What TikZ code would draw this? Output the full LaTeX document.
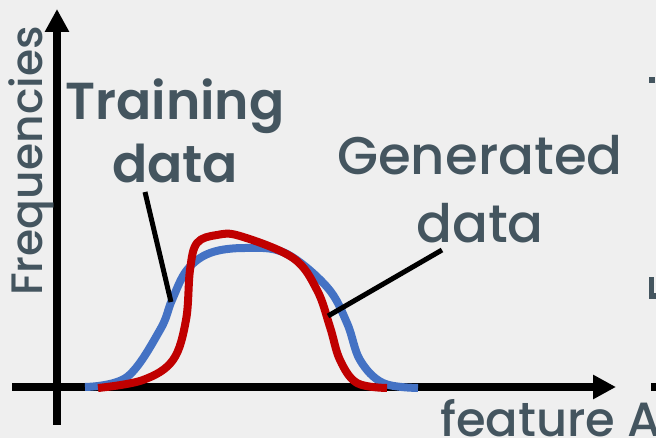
\documentclass[tikz,border=0pt]{standalone}
\usepackage{fontspec}
\setmainfont{Poppins}[UprightFont=* Medium,BoldFont=* SemiBold]
\usetikzlibrary{arrows.meta}

\definecolor{bgcol}{HTML}{EFEFEF}
\definecolor{txtcol}{HTML}{44555F}
\definecolor{traincol}{HTML}{4472C4}
\definecolor{gencol}{HTML}{C00000}

\begin{document}
\begin{tikzpicture}[x=1pt,y=-1pt,
        axis/.style={line width=8pt,-{Triangle[length=23pt,width=23pt]}},
        curve/.style={line width=8pt,smooth,tension=0.6},
        leader/.style={line width=5pt},
        label/.style={text=txtcol,inner sep=0pt,align=center},
        stub/.style={fill=txtcol}]
    \fill[bgcol] (0,0) rectangle (656,438);
    \useasboundingbox (0,0) rectangle (656,438);

    % axes
    \coordinate (o) at (57,387);
    \coordinate (xend) at (616,387);
    \coordinate (yend) at (57,9);
    \coordinate (xstart) at (12,387);
    \coordinate (ystart) at (57,425);
    \draw[line width=8pt] (o) -- (ystart);
    \draw[line width=8pt] (o) -- (xstart);
    \draw[axis] (o) -- (xend);
    \draw[axis] (o) -- (yend);

    % curves
    \draw[curve,traincol] plot coordinates {(85,387) (127,377) (160,330) (172,300)
        (187,270) (210,253) (245,248) (285,253) (327,287) (347,323) (360,360)
        (383,383) (418,388)};
    \draw[curve,gencol] plot coordinates {(98,388) (143,380) (173,360) (186,320)
        (190,270) (197,243) (217,235) (240,236) (293,258) (317,290) (330,327)
        (340,360) (357,383) (387,388)};

    % labels
    \node[label,anchor=base,font=\fontsize{52}{63}\selectfont\bfseries] (train) at (175,183)
        {Training\\data};
    \node[label,anchor=base,font=\fontsize{53}{68}\selectfont] (gen) at (480,243)
        {Generated\\data};
    \node[label,anchor=base,rotate=90,font=\fontsize{44}{50}\selectfont] (freq) at (42,161)
        {Frequencies};
    \node[label,anchor=base west,font=\fontsize{48}{50}\selectfont] (feat) at (440,436)
        {feature A};

    % leaders
    \coordinate (trainfrom) at (145,192);
    \coordinate (trainpt) at (171,302);
    \coordinate (genfrom) at (442,250);
    \coordinate (genpt) at (328,316);
    \draw[leader] (trainfrom) -- (trainpt);
    \draw[leader] (genfrom) -- (genpt);

    % cut-off bits of the next panel
    \fill[stub] (649,77) rectangle (655,83);
    \fill[stub] (649,277) rectangle (654,299);
    \fill[stub] (649,293) rectangle (656,299);
    \fill[black] (651,383) rectangle (656,391);
\end{tikzpicture}
\end{document}
